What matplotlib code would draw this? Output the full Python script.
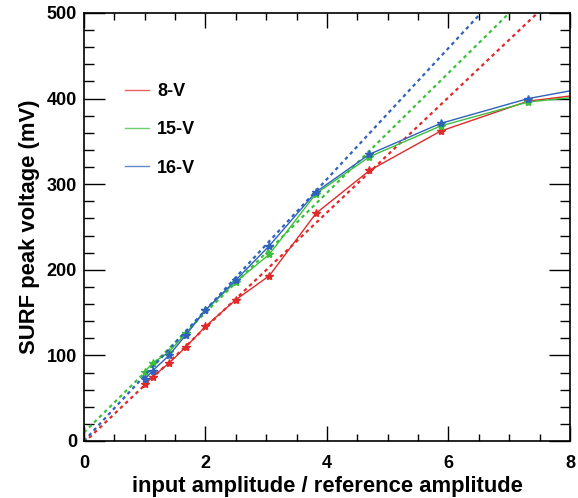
import numpy as np
import matplotlib.pyplot as plt
from matplotlib.ticker import MultipleLocator

# amplitude ratios (same for every channel)
amp = [1.0, 1.13, 1.4, 1.68, 2.0, 2.5, 3.05, 3.82, 4.7, 5.87, 7.31, 8.0]

# SURF peak voltages in mV
v_8 = [66, 75, 91, 110, 134, 165, 193, 266, 316, 362, 397, 403]
v_15 = [81, 91, 104, 126, 153, 186, 218, 289, 332, 368, 396, 401]
v_16 = [72, 82, 100, 124, 153, 188, 228, 291, 335, 371, 400, 409]

# linear fit lines, end points at x=0 and x=8
fit_x = [0, 8]
fit_8 = [-2, 536]
fit_15 = [10, 570]
fit_16 = [0, 612]

labels = ['8-V', '15-V', '16-V']
colors = ['#e02a2a', '#3cc03c', '#2f62bd']

plt.rcParams['font.family'] = ['Liberation Sans', 'DejaVu Sans']
plt.rcParams['font.weight'] = 'bold'

fig = plt.figure(figsize=(5.78, 4.98), dpi=100)
ax = fig.add_axes([0.1453, 0.1145, 0.8408, 0.8594])

series = [v_8, v_15, v_16]
fits = [fit_8, fit_15, fit_16]
for v, f, c, lab in zip(series, fits, colors, labels):
    ax.plot(fit_x, f, color=c, lw=1.6, linestyle=(0, (1.6, 1.6)))
    ax.plot(amp, v, color=c, lw=1.0, marker='*', markersize=6,
            markevery=slice(0, len(amp) - 1), label=lab)

ax.set_xlim(0, 8)
ax.set_ylim(0, 500)
ax.xaxis.set_major_locator(MultipleLocator(2))
ax.xaxis.set_minor_locator(MultipleLocator(0.5))
ax.yaxis.set_major_locator(MultipleLocator(100))
ax.yaxis.set_minor_locator(MultipleLocator(20))
ax.tick_params(which='both', direction='in', top=True, right=True,
               labelsize=13, width=1)
ax.tick_params(axis='x', which='major', length=11, pad=10)
ax.tick_params(axis='x', which='minor', length=5)
ax.tick_params(axis='y', which='major', length=15, pad=5)
ax.tick_params(axis='y', which='minor', length=7.5)
for sp in ax.spines.values():
    sp.set_linewidth(1.2)

ax.set_xlabel('input amplitude / reference amplitude', fontsize=15.8,
              fontweight='bold', labelpad=3)
ax.set_ylabel('SURF peak voltage (mV)', fontsize=15.8, fontweight='bold',
              labelpad=5)

leg = ax.legend(loc='upper left', bbox_to_anchor=(0.084, 0.836), frameon=False,
                fontsize=13, handlelength=1.35, labelspacing=1.18,
                handletextpad=0.45, borderpad=0, borderaxespad=0)
for h in leg.get_lines():
    h.set_marker('')
    h.set_alpha(0.75)
for t in leg.get_texts():
    t.set_fontweight('bold')

fig.savefig('out.png', dpi=100)
